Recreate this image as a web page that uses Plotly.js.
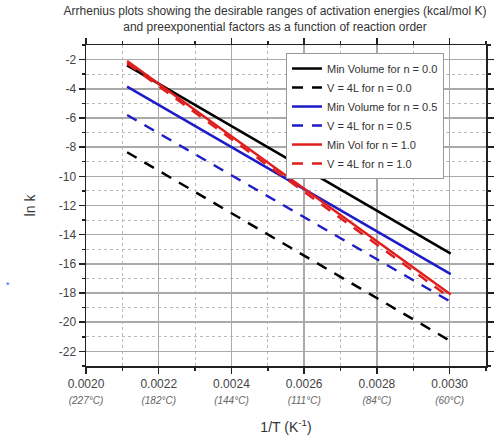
<!DOCTYPE html>
<html>
<head>
<meta charset="utf-8">
<script src="https://cdn.plot.ly/plotly-3.0.1.min.js"></script>
<style>html,body{margin:0;padding:0;background:#fff;}#chart{width:500px;height:438px;}</style>
</head>
<body>
<div id="chart"></div>
<script>
// 1/T endpoints (200 °C and 60 °C)
const invT = [0.002113, 0.003003];

const seriesNames = [
  "Min Volume for n = 0.0",
  "V = 4L for n = 0.0",
  "Min Volume for n = 0.5",
  "V = 4L for n = 0.5",
  "Min Vol for n = 1.0",
  "V = 4L for n = 1.0"
];
const minVolN0 = [-2.4, -15.3];
const v4LN0    = [-8.35, -21.3];
const minVolN05 = [-3.85, -16.7];
const v4LN05   = [-5.8, -18.6];
const minVolN1 = [-2.1, -18.1];
const v4LN1    = [-2.25, -18.35];

const xTickVals = [0.0020, 0.0022, 0.0024, 0.0026, 0.0028, 0.0030];
const xTickMain = ["0.0020", "0.0022", "0.0024", "0.0026", "0.0028", "0.0030"];
const xTickSub  = ["(227°C)", "(182°C)", "(144°C)", "(111°C)", "(84°C)", "(60°C)"];
const yTickVals = [-22, -20, -18, -16, -14, -12, -10, -8, -6, -4, -2];
const yTickText = ["-22", "-20", "-18", "-16", "-14", "-12", "-10", "-8", "-6", "-4", "-2"];

const seriesY = [minVolN0, v4LN0, minVolN05, v4LN05, minVolN1, v4LN1];
const colors = ["#000000", "#000000", "#1c1cc8", "#1c1cc8", "#e01e1e", "#e01e1e"];
const dashes = ["solid", "11px,9px", "solid", "11px,9px", "solid", "11px,9px"];

const traces = seriesY.map((y, i) => ({
  x: invT, y: y, type: "scatter", mode: "lines", name: seriesNames[i],
  line: {color: colors[i], width: 2.5, dash: dashes[i]}
}));

const ticktext = xTickMain.map((m, i) =>
  m + "<br><span style='font-size:10px;color:#666'><i>" + xTickSub[i] + "</i></span>");

const layout = {
  width: 500, height: 438,
  margin: {l: 86, r: 14, t: 45, b: 72},
  paper_bgcolor: "#fff", plot_bgcolor: "#fff",
  font: {family: "Arial, Liberation Sans, sans-serif", color: "#333", size: 12},
  title: {
    text: "Arrhenius plots showing the desirable ranges of activation energies (kcal/mol K)<br>and preexponential factors as a function of reaction order",
    font: {size: 12, color: "#333"},
    x: 0.55, xanchor: "center", y: 0.965, yanchor: "middle"
  },
  xaxis: {
    range: [0.0020, 0.0031],
    tickmode: "array", tickvals: xTickVals, ticktext: ticktext,
    ticks: "outside", ticklen: 6, tickwidth: 1.5, tickcolor: "#222",
    showline: true, linecolor: "#222", linewidth: 1.5, mirror: "allticks",
    showgrid: true, gridcolor: "#aaa", gridwidth: 1.5,
    zeroline: false,
    tickfont: {size: 12, color: "#444"},
    minor: {tickmode: "linear", tick0: 0.0021, dtick: 0.0002, ticks: "outside", ticklen: 3, tickcolor: "#222",
            showgrid: true, gridcolor: "#bbb", griddash: "dot", gridwidth: 1},
    title: {text: "1/T (K<sup>-1</sup>)", font: {size: 14, color: "#333"}, standoff: 17}
  },
  yaxis: {
    range: [-23, -1],
    tickmode: "array", tickvals: yTickVals, ticktext: yTickText,
    ticks: "outside", ticklen: 6, tickwidth: 1.5, tickcolor: "#222",
    showline: true, linecolor: "#222", linewidth: 1.5, mirror: "allticks",
    showgrid: true, gridcolor: "#aaa", gridwidth: 1.5,
    zeroline: false,
    tickfont: {size: 12, color: "#444"},
    minor: {tickmode: "linear", tick0: -23, dtick: 2, ticks: "outside", ticklen: 3, tickcolor: "#222",
            showgrid: true, gridcolor: "#bbb", griddash: "dot", gridwidth: 1},
    title: {text: "ln k", font: {size: 14, color: "#333"}, standoff: 20}
  },
  legend: {
    x: 0.5, y: 0.975, xanchor: "left", yanchor: "top",
    bgcolor: "#fff", bordercolor: "#999", borderwidth: 1,
    font: {size: 11, color: "#333"},
    tracegroupgap: 0, itemwidth: 30
  },
  annotations: [
    {text: "*", xref: "paper", yref: "paper", x: -0.205, y: 0.23, showarrow: false,
     font: {size: 9, color: "#3050ff"}}
  ],
  showlegend: true
};

Plotly.newPlot("chart", traces, layout, {displayModeBar: false, staticPlot: true});
</script>
</body>
</html>
